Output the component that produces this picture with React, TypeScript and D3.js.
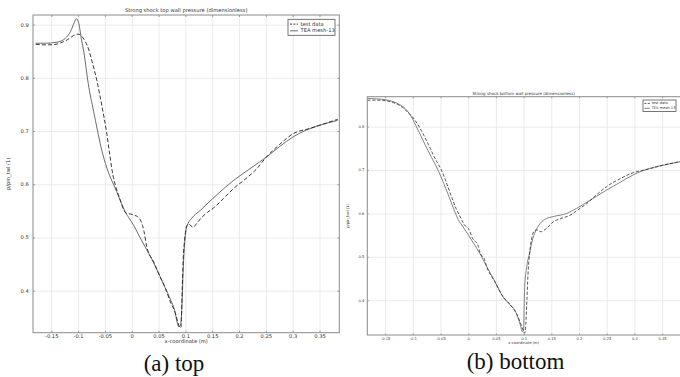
import React from "react";
import * as d3 from "d3";

// ---------- DATA ----------
const xTicks = [-0.15, -0.1, -0.05, 0, 0.05, 0.1, 0.15, 0.2, 0.25, 0.3, 0.35];
const xTickLabels = ["-0.15", "-0.1", "-0.05", "0", "0.05", "0.1", "0.15", "0.2", "0.25", "0.3", "0.35"];
const topYTicks = [0.4, 0.5, 0.6, 0.7, 0.8, 0.9];
const topYTickLabels = ["0.4", "0.5", "0.6", "0.7", "0.8", "0.9"];
const botYTicks = [0.4, 0.5, 0.6, 0.7, 0.8];
const botYTickLabels = ["0.4", "0.5", "0.6", "0.7", "0.8"];
const seriesNames = ["test data", "TEA mesh-13"];

// top wall, test data (dashed)
const topTestX = [-0.180, -0.165, -0.150, -0.135, -0.120, -0.110, -0.101, -0.094, -0.088, -0.084, -0.075, -0.066, -0.056, -0.048, -0.042, -0.036, -0.030, -0.022, -0.016, -0.010, -0.003, 0.003, 0.010, 0.015, 0.019, 0.022, 0.027, 0.040, 0.052, 0.062, 0.071, 0.080, 0.085, 0.089, 0.091, 0.093, 0.095, 0.098, 0.102, 0.106, 0.113, 0.120, 0.127, 0.140, 0.151, 0.170, 0.189, 0.210, 0.232, 0.250, 0.275, 0.300, 0.332, 0.350, 0.383];
const topTestY = [0.864, 0.863, 0.863, 0.866, 0.873, 0.880, 0.883, 0.879, 0.870, 0.862, 0.832, 0.796, 0.745, 0.700, 0.657, 0.618, 0.594, 0.570, 0.553, 0.546, 0.545, 0.543, 0.540, 0.534, 0.524, 0.512, 0.484, 0.455, 0.427, 0.405, 0.380, 0.360, 0.342, 0.331, 0.333, 0.400, 0.460, 0.500, 0.524, 0.526, 0.520, 0.527, 0.536, 0.548, 0.556, 0.574, 0.593, 0.610, 0.630, 0.652, 0.676, 0.696, 0.706, 0.712, 0.723];

// top wall, TEA mesh-13 (solid)
const topTeaX = [-0.180, -0.160, -0.140, -0.125, -0.115, -0.108, -0.104, -0.100, -0.095, -0.090, -0.082, -0.072, -0.065, -0.058, -0.050, -0.042, -0.035, -0.029, -0.020, -0.013, -0.005, 0.003, 0.015, 0.027, 0.040, 0.052, 0.062, 0.071, 0.080, 0.084, 0.087, 0.090, 0.093, 0.095, 0.097, 0.100, 0.104, 0.110, 0.127, 0.150, 0.190, 0.225, 0.250, 0.275, 0.300, 0.325, 0.350, 0.383];
const topTeaY = [0.866, 0.866, 0.868, 0.875, 0.888, 0.905, 0.912, 0.905, 0.875, 0.848, 0.790, 0.738, 0.703, 0.670, 0.640, 0.617, 0.601, 0.587, 0.565, 0.549, 0.536, 0.523, 0.500, 0.478, 0.453, 0.427, 0.405, 0.385, 0.360, 0.340, 0.333, 0.337, 0.380, 0.440, 0.480, 0.513, 0.527, 0.536, 0.552, 0.574, 0.609, 0.634, 0.652, 0.672, 0.690, 0.703, 0.712, 0.721];

// bottom wall, test data (dashed)
const botTestX = [-0.183, -0.165, -0.150, -0.138, -0.128, -0.119, -0.110, -0.100, -0.089, -0.081, -0.074, -0.062, -0.049, -0.039, -0.030, -0.022, -0.016, -0.010, -0.006, -0.002, 0.002, 0.006, 0.010, 0.014, 0.017, 0.020, 0.024, 0.028, 0.032, 0.047, 0.062, 0.075, 0.086, 0.093, 0.098, 0.101, 0.103, 0.105, 0.107, 0.110, 0.114, 0.118, 0.123, 0.130, 0.140, 0.153, 0.168, 0.183, 0.198, 0.213, 0.230, 0.249, 0.275, 0.297, 0.313, 0.330, 0.350, 0.385];
const botTestY = [0.862, 0.862, 0.861, 0.857, 0.852, 0.845, 0.834, 0.821, 0.800, 0.781, 0.763, 0.731, 0.700, 0.668, 0.636, 0.610, 0.595, 0.580, 0.572, 0.569, 0.560, 0.546, 0.538, 0.534, 0.527, 0.512, 0.503, 0.497, 0.480, 0.444, 0.409, 0.391, 0.371, 0.350, 0.333, 0.325, 0.345, 0.400, 0.460, 0.510, 0.545, 0.560, 0.563, 0.559, 0.566, 0.582, 0.590, 0.597, 0.610, 0.624, 0.643, 0.663, 0.682, 0.695, 0.700, 0.705, 0.712, 0.721];

// bottom wall, TEA mesh-13 (solid)
const botTeaX = [-0.183, -0.165, -0.150, -0.135, -0.125, -0.115, -0.105, -0.094, -0.086, -0.079, -0.067, -0.055, -0.045, -0.035, -0.025, -0.019, -0.010, 0.000, 0.010, 0.020, 0.032, 0.047, 0.062, 0.075, 0.086, 0.093, 0.097, 0.099, 0.101, 0.105, 0.110, 0.115, 0.120, 0.129, 0.140, 0.153, 0.177, 0.195, 0.207, 0.230, 0.249, 0.275, 0.297, 0.327, 0.350, 0.385];
const botTeaY = [0.866, 0.865, 0.863, 0.858, 0.852, 0.843, 0.827, 0.800, 0.779, 0.760, 0.730, 0.700, 0.670, 0.638, 0.605, 0.587, 0.570, 0.550, 0.530, 0.509, 0.480, 0.445, 0.409, 0.390, 0.371, 0.345, 0.328, 0.335, 0.430, 0.480, 0.510, 0.540, 0.558, 0.578, 0.589, 0.594, 0.601, 0.613, 0.622, 0.640, 0.655, 0.674, 0.690, 0.705, 0.712, 0.721];

type Panel = {
  x0: number; x1: number; y0: number; y1: number;
  xDom: [number, number]; yDom: [number, number];
  yTicks: number[]; yTickLabels: string[];
  title: string; ylabel: string;
  testX: number[]; testY: number[]; teaX: number[]; teaY: number[];
  fs: number; titleFs: number; tickLen: number;
  titleY: number; xTickY: number; xLabelY: number; yLabelX: number;
  legend: { x: number; y: number; w: number; h: number; fs: number };
  lw: number; dash: string;
};

const FONT = "DejaVu Sans, sans-serif";

function PanelView({ p }: { p: Panel }) {
  const xs = d3.scaleLinear().domain(p.xDom).range([p.x0, p.x1]);
  const ys = d3.scaleLinear().domain(p.yDom).range([p.y1, p.y0]);
  const mk = (X: number[], Y: number[]) =>
    d3.line<number>().x((_, i) => xs(X[i])).y((_, i) => ys(Y[i])).curve(d3.curveMonotoneX)(X) || "";
  const clipId = "clip" + Math.round(p.x0);
  const cx = (p.x0 + Math.min(p.x1, 680)) / 2;
  const L = p.legend;
  return (
    <g>
      <defs>
        <clipPath id={clipId}>
          <rect x={p.x0} y={p.y0} width={p.x1 - p.x0} height={p.y1 - p.y0} />
        </clipPath>
      </defs>
      {xTicks.map((t) => (
        <line key={"gx" + t} x1={xs(t)} x2={xs(t)} y1={p.y0} y2={p.y1} stroke="#e6e6e6" strokeWidth={0.8} />
      ))}
      {p.yTicks.map((t) => (
        <line key={"gy" + t} x1={p.x0} x2={p.x1} y1={ys(t)} y2={ys(t)} stroke="#e6e6e6" strokeWidth={0.8} />
      ))}
      <g clipPath={`url(#${clipId})`}>
        <path d={mk(p.teaX, p.teaY)} fill="none" stroke="#5a5a5a" strokeWidth={p.lw} />
        <path d={mk(p.testX, p.testY)} fill="none" stroke="#222" strokeWidth={p.lw} strokeDasharray={p.dash} />
      </g>
      <rect x={p.x0} y={p.y0} width={p.x1 - p.x0} height={p.y1 - p.y0} fill="none" stroke="#8a8a8a" strokeWidth={1} />
      {xTicks.map((t, i) => (
        <g key={"tx" + t}>
          <line x1={xs(t)} x2={xs(t)} y1={p.y1} y2={p.y1 - p.tickLen} stroke="#8a8a8a" strokeWidth={0.8} />
          <line x1={xs(t)} x2={xs(t)} y1={p.y0} y2={p.y0 + p.tickLen} stroke="#8a8a8a" strokeWidth={0.8} />
          <text x={xs(t)} y={p.xTickY} fontSize={p.fs} fontFamily={FONT} fill="#333" textAnchor="middle" dominantBaseline="middle">
            {xTickLabels[i]}
          </text>
        </g>
      ))}
      {p.yTicks.map((t, i) => (
        <g key={"ty" + t}>
          <line x1={p.x0} x2={p.x0 + p.tickLen} y1={ys(t)} y2={ys(t)} stroke="#8a8a8a" strokeWidth={0.8} />
          <line x1={p.x1} x2={p.x1 - p.tickLen} y1={ys(t)} y2={ys(t)} stroke="#8a8a8a" strokeWidth={0.8} />
          <text x={p.x0 - p.fs * 0.8} y={ys(t)} fontSize={p.fs} fontFamily={FONT} fill="#333" textAnchor="end" dominantBaseline="middle">
            {p.yTickLabels[i]}
          </text>
        </g>
      ))}
      <text x={cx} y={p.titleY} fontSize={p.titleFs} fontFamily={FONT} fill="#333" textAnchor="middle" dominantBaseline="middle">
        {p.title}
      </text>
      <text x={cx} y={p.xLabelY} fontSize={p.fs} fontFamily={FONT} fill="#333" textAnchor="middle" dominantBaseline="middle">
        x-coordinate (m)
      </text>
      <text
        x={p.yLabelX}
        y={(p.y0 + p.y1) / 2}
        fontSize={p.fs}
        fontFamily={FONT}
        fill="#333"
        textAnchor="middle"
        dominantBaseline="middle"
        transform={`rotate(-90 ${p.yLabelX} ${(p.y0 + p.y1) / 2})`}
      >
        {p.ylabel}
      </text>
      <rect x={L.x} y={L.y} width={L.w} height={L.h} fill="#fff" stroke="#555" strokeWidth={0.8} />
      {seriesNames.map((n, i) => {
        const yy = L.y + L.h * (0.3 + 0.42 * i);
        return (
          <g key={n}>
            <line
              x1={L.x + L.fs * 0.4}
              x2={L.x + L.fs * 1.9}
              y1={yy}
              y2={yy}
              stroke={i === 0 ? "#222" : "#5a5a5a"}
              strokeWidth={p.lw}
              strokeDasharray={i === 0 ? "2 1.3" : undefined}
            />
            <text x={L.x + L.fs * 2.4} y={yy} fontSize={L.fs} fontFamily={FONT} fill="#333" dominantBaseline="middle">
              {n}
            </text>
          </g>
        );
      })}
    </g>
  );
}

const topPanel: Panel = {
  x0: 33, x1: 339.3, y0: 15, y1: 332.7,
  xDom: [-0.185, 0.386], yDom: [0.322, 0.919],
  yTicks: topYTicks, yTickLabels: topYTickLabels,
  title: "Strong shock top wall pressure (dimensionless)", ylabel: "p/pin_twl (1)",
  testX: topTestX, testY: topTestY, teaX: topTeaX, teaY: topTeaY,
  fs: 5.2, titleFs: 5.2, tickLen: 2,
  titleY: 10.5, xTickY: 336.5, xLabelY: 342, yLabelX: 8.5,
  legend: { x: 288, y: 19.3, w: 47, h: 16, fs: 5.2 },
  lw: 0.9, dash: "4 2.2",
};

const botPanel: Panel = {
  x0: 367.3, x1: 682, y0: 96.7, y1: 335,
  xDom: [-0.183, 0.385], yDom: [0.321, 0.870],
  yTicks: botYTicks, yTickLabels: botYTickLabels,
  title: "Strong shock bottom wall pressure (dimensionless)", ylabel: "p/pin_bwl (1)",
  testX: botTestX, testY: botTestY, teaX: botTeaX, teaY: botTeaY,
  fs: 3.7, titleFs: 4, tickLen: 1.5,
  titleY: 93.5, xTickY: 339, xLabelY: 342.8, yLabelX: 348,
  legend: { x: 643, y: 100, w: 33, h: 11.5, fs: 3.6 },
  lw: 0.75, dash: "3.2 1.8",
};

export default function App() {
  return (
    <svg
      width={680}
      height={377}
      viewBox="0 0 680 377"
      style={{ position: "absolute", left: 0, top: 0, background: "#fff" }}
    >
      <rect x={0} y={0} width={680} height={377} fill="#fff" />
      <PanelView p={topPanel} />
      <PanelView p={botPanel} />
      <text x={174} y={371} fontSize={23} fontFamily="Liberation Serif, Times New Roman, serif" fill="#111" textAnchor="middle">
        (a) top
      </text>
      <text x={515.5} y={369} fontSize={23} fontFamily="Liberation Serif, Times New Roman, serif" fill="#111" textAnchor="middle">
        (b) bottom
      </text>
    </svg>
  );
}
